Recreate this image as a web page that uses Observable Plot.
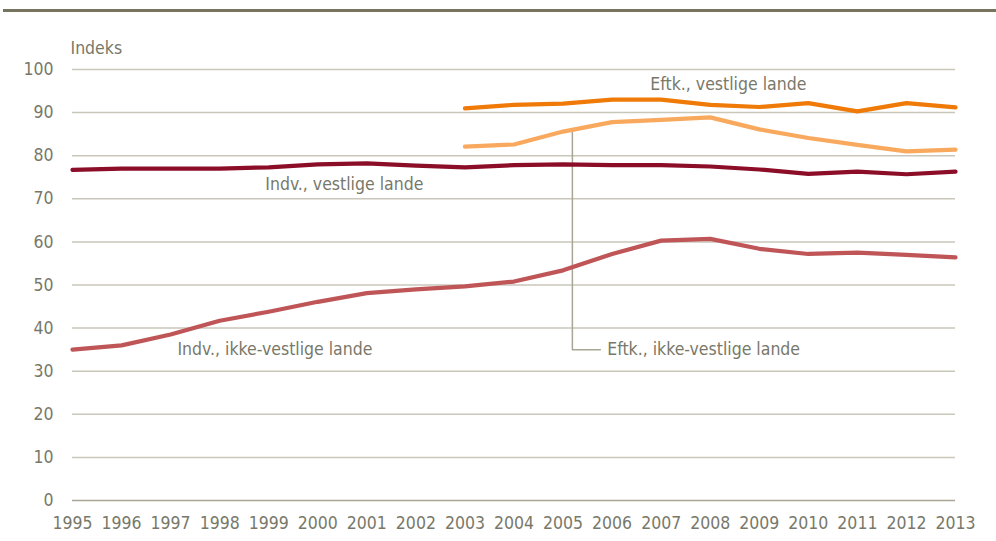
<!DOCTYPE html>
<html>
<head>
<meta charset="utf-8">
<script src="https://cdn.jsdelivr.net/npm/d3@7"></script>
<script src="https://cdn.jsdelivr.net/npm/@observablehq/plot@0.6"></script>
<style>
  html, body { margin: 0; padding: 0; background: #fff; }
  body { width: 996px; height: 541px; position: relative; overflow: hidden;
         font-family: "Liberation Sans Narrow", "Arial Narrow", "DejaVu Sans Condensed", sans-serif; }
  #rule { position: absolute; left: 3px; right: 0; top: 9px; height: 3px; background: #76735F; }
  #chart { position: absolute; left: 0; top: 0; }
</style>
</head>
<body>
<div id="rule"></div>
<div id="chart"></div>
<script>
const years = [1995,1996,1997,1998,1999,2000,2001,2002,2003,2004,2005,2006,2007,2008,2009,2010,2011,2012,2013];
const indvVestlige = [76.7,77.0,77.0,77.0,77.3,78.0,78.2,77.7,77.3,77.8,78.0,77.8,77.8,77.5,76.8,75.8,76.3,75.7,76.3];
const indvIkkeVestlige = [35.0,36.0,38.5,41.7,43.8,46.1,48.1,49.0,49.7,50.8,53.4,57.2,60.3,60.7,58.4,57.2,57.5,57.0,56.4];
const eftkYears = [2003,2004,2005,2006,2007,2008,2009,2010,2011,2012,2013];
const eftkVestlige = [91.0,91.8,92.1,93.0,93.0,91.8,91.3,92.2,90.3,92.2,91.2];
const eftkIkkeVestlige = [82.1,82.6,85.6,87.8,88.3,88.9,86.1,84.1,82.5,81.0,81.4];
const yTicks = [0,10,20,30,40,50,60,70,80,90,100];

const labelNames = ["Eftk., vestlige lande", "Indv., vestlige lande", "Indv., ikke-vestlige lande", "Eftk., ikke-vestlige lande"];
const labelX = [2006.78, 1998.93, 1997.14, 2005.9];
const labelY = [96.6, 73.3, 35.0, 35.0];
const connectorX = [2005.19, 2005.19, 2005.76];
const connectorY = [85.9, 35.0, 35.0];

const series = (xs, vs) => xs.map((x, i) => ({x, v: vs[i]}));
const labels = labelNames.map((t, i) => ({t, x: labelX[i], y: labelY[i]}));
const connector = connectorX.map((x, i) => ({x, y: connectorY[i]}));

const textColor = "#78786A";
const font = '"Liberation Sans Narrow", "Arial Narrow", "DejaVu Sans Condensed", sans-serif';
const fs = 17.5;

const chart = Plot.plot({
  width: 996,
  height: 541,
  marginLeft: 72,
  marginRight: 41,
  marginTop: 69,
  marginBottom: 41,
  style: {fontFamily: font, fontSize: fs + "px", color: textColor, background: "transparent"},
  x: {domain: [1995, 2013], label: null},
  y: {domain: [0, 100], label: null},
  marks: [
    Plot.ruleY(yTicks.filter(d => d > 0), {stroke: "#C9C6BA", strokeWidth: 1.5}),
    Plot.ruleY([0], {stroke: "#A8A594", strokeWidth: 1.5}),
    Plot.line(connector, {x: "x", y: "y", stroke: "#A8A594", strokeWidth: 1.5}),
    Plot.line(series(years, indvIkkeVestlige), {x: "x", y: "v", stroke: "#BF5557", strokeWidth: 4.2}),
    Plot.line(series(years, indvVestlige), {x: "x", y: "v", stroke: "#8B0D27", strokeWidth: 4.2}),
    Plot.line(series(eftkYears, eftkIkkeVestlige), {x: "x", y: "v", stroke: "#F9A95E", strokeWidth: 4.2}),
    Plot.line(series(eftkYears, eftkVestlige), {x: "x", y: "v", stroke: "#EF7A08", strokeWidth: 4.2}),
    Plot.text(labels, {x: "x", y: "y", text: "t", textAnchor: "start", fill: textColor, fontSize: fs}),
    Plot.axisX({ticks: years, tickFormat: d => String(d), tickSize: 0, tickPadding: 16, label: null, fill: textColor, fontSize: fs}),
    Plot.axisY({ticks: yTicks, tickSize: 0, tickPadding: 19, label: null, fill: textColor, fontSize: fs}),
    Plot.text(["Indeks"], {frameAnchor: "top-left", dx: -2, dy: -28, textAnchor: "start", fill: textColor, fontSize: fs})
  ]
});
document.getElementById("chart").appendChild(chart);
</script>
</body>
</html>
